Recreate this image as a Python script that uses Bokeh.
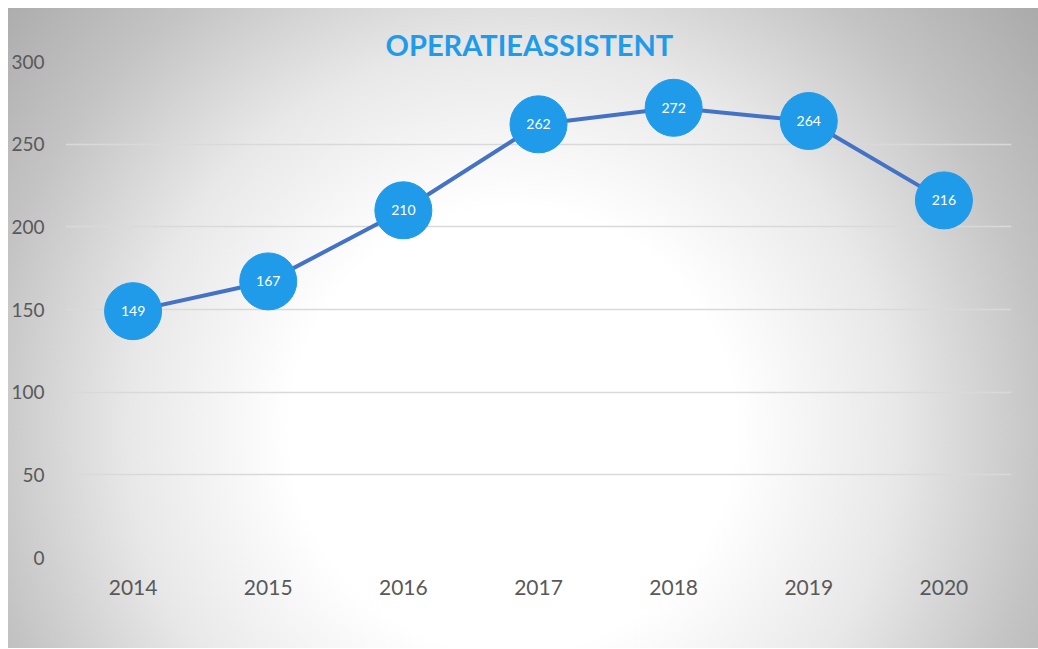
from bokeh.plotting import figure
from bokeh.models import Range1d, FactorRange, ColumnDataSource
from bokeh.core.properties import value
from bokeh.embed import file_html
from bokeh.resources import INLINE

years = ["2014", "2015", "2016", "2017", "2018", "2019", "2020"]
counts = [149, 167, 210, 262, 272, 264, 216]
labels = [str(c) for c in counts]
title_text = "OPERATIEASSISTENT"
y_ticks = [0, 50, 100, 150, 200, 250, 300]

src = ColumnDataSource(dict(x=years, y=counts, lab=labels))

p = figure(
    x_range=FactorRange(*years), y_range=Range1d(0, 300),
    width=1030, height=640, output_backend="svg", toolbar_location=None,
    min_border_left=57, min_border_right=27, min_border_top=53, min_border_bottom=91,
    title=title_text,
)
p.margin = (8, 0, 0, 8)
p.border_fill_color = None
p.background_fill_color = None
p.outline_line_color = None
p.styles = {
    "background": "radial-gradient(circle farthest-corner at 49% 66%, #ffffff 0%, #ffffff 33%, "
                  "#e8e8e8 57%, #c4c4c4 79%, #aaaaaa 100%)"
}

p.title.align = "left"
p.title.offset = 320
p.title.text_font = "Lato"
p.title.text_font_style = "bold"
p.title.text_font_size = "29px"
p.title.text_color = "#1f9bea"
p.title.standoff = 0

p.xgrid.grid_line_color = None
p.ygrid.grid_line_color = "#d9d9d9"
p.ygrid.grid_line_width = 1.5
p.yaxis.ticker = y_ticks

for ax in (p.xaxis, p.yaxis):
    ax.axis_line_color = None
    ax.major_tick_line_color = None
    ax.minor_tick_line_color = None
    ax.major_tick_out = 0
    ax.major_tick_in = 0
    ax.minor_tick_out = 0
    ax.minor_tick_in = 0
    ax.major_label_text_color = "#595959"
    ax.major_label_text_font = "Lato"
p.yaxis.major_label_text_font_size = "19px"
p.xaxis.major_label_text_font_size = "21px"
p.yaxis.major_label_standoff = 21
p.xaxis.major_label_standoff = 22

p.line("x", "y", source=src, line_color="#4472C4", line_width=4)
p.scatter("x", "y", source=src, size=57, fill_color="#1f9bea", line_color="#1f9bea")
p.text("x", "y", text="lab", source=src, text_color="white", text_font=value("Lato"),
       text_font_size="14px", text_align="center", text_baseline="middle")

open("out.html", "w").write(file_html(p, INLINE))
